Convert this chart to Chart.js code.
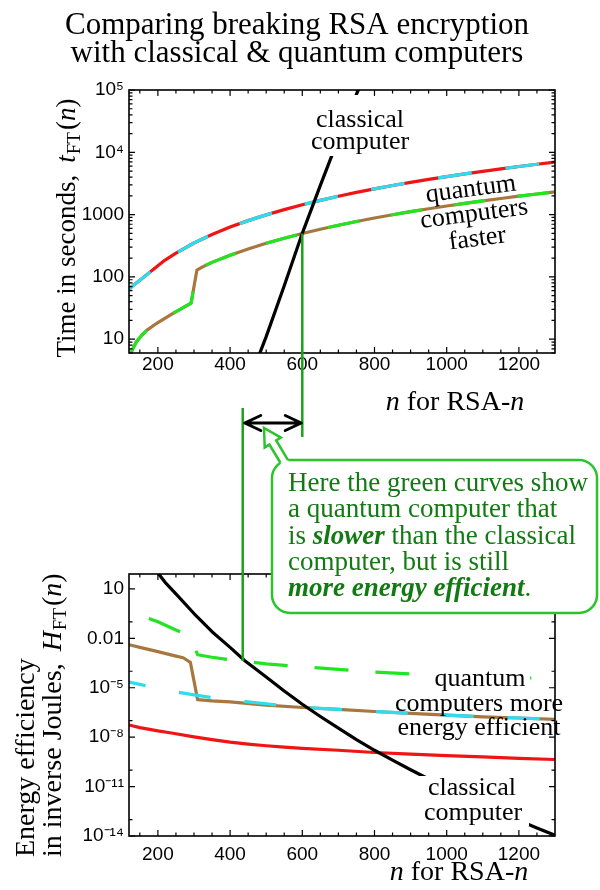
<!DOCTYPE html>
<html><head><meta charset="utf-8">
<script src="https://cdn.jsdelivr.net/npm/chart.js@4/dist/chart.umd.min.js"></script>
<style>
html,body{margin:0;padding:0;background:#fff;}
#wrap{position:relative;width:600px;height:890px;overflow:hidden;}
#wrap canvas{position:absolute;left:0;top:0;}
</style></head><body>
<div id="wrap"><canvas id="cTop" width="600" height="890"></canvas><canvas id="cBot" width="600" height="890"></canvas></div>
<script>
const SERIF = '"Liberation Serif","Times New Roman",serif';
const SANS = '"Liberation Sans",Arial,sans-serif';

// ---------- top panel: time in seconds ----------
const redCyanTimeN   = [120,128,150,175,200,220,250,300,350,400,450,500,550,600,650,700,750,800,850,900,950,1000,1050,1100,1150,1200,1250,1300];
const redCyanTimeSec = [62,70,88,115,151,186,240,350,480,630,800,990,1200,1440,1690,1970,2270,2590,2930,3290,3670,4080,4500,4950,5420,5910,6430,6980];
const brownGreenTimeN   = [120,128,140,155,170,200,242,270,292,308,325,350,400,450,500,550,600,650,700,750,800,850,900,950,1000,1050,1100,1150,1200,1250,1300];
const brownGreenTimeSec = [5.2,6.5,9,11.5,14,18.5,26,32,38,128,146,171,222,281,346,418,497,583,675,774,880,993,1113,1239,1372,1512,1660,1813,1975,2142,2315];
const classicalTimeN   = [465,480,500,550,600,650,700,750,780];
const classicalTimeSec = [3.2,5.5,11,72,500,2950,16600,85000,220000];

// ---------- bottom panel: energy efficiency (1/J) ----------
const classicalEnergyN = [180,197,220,250,300,350,400,440,500,550,600,650,700,750,800,850,900,950,1000,1050,1100,1150,1200,1250,1300];
const classicalEnergyH = [562,112,25,5.0,0.32,0.025,2.8e-3,4.5e-4,4.5e-5,6.3e-6,1.0e-6,1.8e-7,3.5e-8,7.1e-9,1.6e-9,4.0e-10,1.05e-10,2.9e-11,8.3e-12,2.5e-12,7.9e-13,2.6e-13,8.9e-14,3.1e-14,1.1e-14];
const greenEnergyN = [175,200,250,270,290,310,350,400,435,500,600,700,800,900,1000,1100,1200,1300];
const greenEnergyH = [0.16,0.1,0.032,0.021,0.014,1.0e-3,7.1e-4,5.0e-4,4.2e-4,2.8e-4,1.9e-4,1.3e-4,8.9e-5,6.9e-5,5.6e-5,4.8e-5,4.1e-5,3.5e-5];
const cyanEnergyN = [120,150,200,250,300,350,400,450,500,550,600,700,800,900,1000,1100,1200,1300];
const cyanEnergyH = [2.2e-5,1.6e-5,8.9e-6,5.6e-6,3.7e-6,2.5e-6,1.9e-6,1.4e-6,1.07e-6,7.9e-7,6.3e-7,4.8e-7,3.6e-7,2.8e-7,2.2e-7,1.7e-7,1.45e-7,1.2e-7];
const brownEnergyN = [120,150,200,250,270,290,310,350,400,500,600,700,800,900,1000,1100,1200,1300];
const brownEnergyH = [4.1e-3,2.8e-3,1.55e-3,8.3e-4,6.6e-4,3.5e-4,1.9e-6,1.6e-6,1.4e-6,8.9e-7,6.3e-7,4.8e-7,3.6e-7,2.8e-7,2.2e-7,1.7e-7,1.45e-7,1.2e-7];
const redEnergyN = [120,150,200,233,250,300,350,400,450,500,550,600,700,800,900,1000,1100,1200,1300];
const redEnergyH = [5.5e-8,3.8e-8,2.4e-8,1.86e-8,1.6e-8,1.05e-8,7.1e-9,5.0e-9,3.8e-9,3.0e-9,2.5e-9,2.1e-9,1.6e-9,1.17e-9,9.3e-10,7.6e-10,6.3e-10,5.2e-10,4.4e-10];

// ---------- ticks ----------
const xTickMajor  = [200,400,600,800,1000,1200];
const xTickLabels = ['200','400','600','800','1000','1200'];
const xTickMinor  = [150,250,300,350,450,500,550,650,700,750,850,900,950,1050,1100,1150,1250];
const timeTickValues = [10,100,1000,1e4,1e5];
const timeTickLabels = ['10','100','1000','10\u2074','10\u2075'];
const timeTickMinor = [6,7,8,9,20,30,40,50,60,70,80,90,200,300,400,500,600,700,800,900,2000,3000,4000,5000,6000,7000,8000,9000,2e4,3e4,4e4,5e4,6e4,7e4,8e4,9e4];
const energyTickValues = [10,0.01,1e-5,1e-8,1e-11,1e-14];
const energyTickLabels = ['10','0.01','10\u207B\u2075','10\u207B\u2078','10\u207B\u00B9\u00B9','10\u207B\u00B9\u2074'];
const energyTickMinor = [0.1,1e-4,1e-7,1e-10,1e-13];

// crossing markers (n values)
const markSlowN = 435, markFastN = 600;

const C = {red:'#f01414', cyan:'#2fdcee', green:'#22e522', brown:'#a8773f', black:'#000',
  vline:'#1aa31a', box:'#2cc42c', text:'#127a12'};

function same(a,b){ return Math.abs(a-b) <= Math.abs(b)*1e-9; }
function labelFor(v, vals, labels){ for(let i=0;i<vals.length;i++) if(same(vals[i],v)) return labels[i]; return ''; }
function pts(N,V){ return N.map((n,i)=>({x:n,y:V[i]})); }
function ds(label,N,V,color,order,extra){
  return Object.assign({label, data:pts(N,V), borderColor:color, borderWidth:3.2, pointRadius:0, fill:false, tension:0, order, borderCapStyle:'butt', borderJoinStyle:'round'}, extra||{});
}
function richW(ctx,segs){ let w=0; for(const s of segs){ ctx.font=s.f; w+=ctx.measureText(s.t).width+(s.gap||0);} return w; }
function drawRich(ctx,x,y,segs){ for(const s of segs){ ctx.font=s.f; ctx.fillText(s.t,x,y+(s.dy||0)); x+=ctx.measureText(s.t).width+(s.gap||0);} return x; }

function drawFrame(chart, xMajor, yMajor){
  const ctx=chart.ctx, a=chart.chartArea, xs=chart.scales.x, ys=chart.scales.y;
  const isMaj=(arr,v)=>arr.some(m=>same(m,v));
  ctx.save(); ctx.strokeStyle='#000'; ctx.lineWidth=1.2; ctx.beginPath();
  xs.ticks.forEach(t=>{ const p=xs.getPixelForValue(t.value); const L=isMaj(xMajor,t.value)?6:3.5;
    ctx.moveTo(p,a.bottom); ctx.lineTo(p,a.bottom-L); ctx.moveTo(p,a.top); ctx.lineTo(p,a.top+L); });
  ys.ticks.forEach(t=>{ const p=ys.getPixelForValue(t.value); const L=isMaj(yMajor,t.value)?6:3.5;
    ctx.moveTo(a.left,p); ctx.lineTo(a.left+L,p); ctx.moveTo(a.right,p); ctx.lineTo(a.right-L,p); });
  ctx.stroke();
  ctx.lineWidth=1.6; ctx.strokeRect(a.left,a.top,a.right-a.left,a.bottom-a.top);
  ctx.restore();
}

function xScale(extraTicks, pad){
  return {type:'linear', min:120, max:1300,
    afterBuildTicks:s=>{ s.ticks=[...xTickMinor,...xTickMajor].sort((p,q)=>p-q).map(v=>({value:v})); },
    afterFit:s=>{ s.height=extraTicks; },
    grid:{display:false, drawTicks:false}, border:{display:false},
    ticks:{autoSkip:false, maxRotation:0, minRotation:0, padding:pad, color:'#000', font:{family:SANS,size:19},
      callback:v=>labelFor(v,xTickMajor,xTickLabels)}};
}
function yScale(min,max,major,labels,minor){
  const all=[...minor,...major].sort((p,q)=>p-q);
  return {type:'logarithmic', min, max,
    afterBuildTicks:s=>{ s.ticks=all.map(v=>({value:v})); },
    afterFit:s=>{ s.width=90; },
    grid:{display:false, drawTicks:false}, border:{display:false},
    ticks:{autoSkip:false, padding:5, color:'#000', font:{family:SANS,size:19},
      callback:v=>labelFor(v,major,labels)}};
}

// ---------------- TOP CHART ----------------
const topDecor = {id:'topDecor', afterDatasetsDraw(chart){
  const ctx=chart.ctx, xs=chart.scales.x, ys=chart.scales.y;
  ctx.save();
  // classical computer label
  ctx.fillStyle='#fff'; ctx.fillRect(308,95,104,61);
  ctx.fillStyle='#000'; ctx.font='26px '+SERIF; ctx.textAlign='center'; ctx.textBaseline='alphabetic';
  ctx.fillText('classical',360,127); ctx.fillText('computer',360,149);
  // quantum computers faster (rotated)
  ctx.save(); ctx.translate(475,221); ctx.rotate(-7.5*Math.PI/180);
  ctx.fillText('quantum',0,-25); ctx.fillText('computers',0,0); ctx.fillText('faster',0,25);
  ctx.restore();
  ctx.restore();
  drawFrame(chart, xTickMajor, timeTickValues);
  ctx.save();
  // green vertical marker at n=600
  const xp=xs.getPixelForValue(markFastN);
  const yv=brownGreenTimeSec[brownGreenTimeN.indexOf(markFastN)];
  ctx.strokeStyle=C.vline; ctx.lineWidth=2.5; ctx.beginPath();
  ctx.moveTo(xp, ys.getPixelForValue(yv)); ctx.lineTo(xp,437); ctx.stroke();
  // x-axis title
  ctx.fillStyle='#000'; ctx.textBaseline='alphabetic'; ctx.textAlign='left';
  const xt=[{t:'n',f:'italic 28px '+SERIF},{t:' for RSA-',f:'28px '+SERIF},{t:'n',f:'italic 28px '+SERIF}];
  drawRich(ctx, 455-richW(ctx,xt)/2, 410, xt);
  // y-axis title
  const yt=[{t:'Time in seconds,',f:'27px '+SERIF,gap:12},{t:'t',f:'italic 27px '+SERIF,gap:1},{t:'FT',f:'19px '+SERIF,dy:5,gap:2},{t:'(',f:'27px '+SERIF},{t:'n',f:'italic 27px '+SERIF},{t:')',f:'27px '+SERIF}];
  ctx.translate(75,228); ctx.rotate(-Math.PI/2);
  drawRich(ctx, -richW(ctx,yt)/2, 0, yt);
  ctx.restore();
}};

new Chart(document.getElementById('cTop'), {
  type:'line',
  data:{datasets:[
    ds('classical computer',classicalTimeN,classicalTimeSec,C.black,0),
    ds('cyan',redCyanTimeN,redCyanTimeSec,C.cyan,1,{borderDash:[34,34],borderDashOffset:6}),
    ds('red',redCyanTimeN,redCyanTimeSec,C.red,2),
    ds('green',brownGreenTimeN,brownGreenTimeSec,C.green,3,{borderDash:[32,32]}),
    ds('brown',brownGreenTimeN,brownGreenTimeSec,C.brown,4)
  ]},
  options:{responsive:false, animation:false, devicePixelRatio:1, events:[],
    layout:{padding:{left:39,right:45,top:0,bottom:477}},
    plugins:{legend:{display:false}, tooltip:{enabled:false},
      title:{display:true, text:['Comparing breaking RSA encryption','with classical & quantum computers'],
        color:'#000', font:{family:SERIF,size:31,weight:'normal',lineHeight:0.9}, padding:{top:12,bottom:22.2}}},
    scales:{x:xScale(60,0), y:yScale(6,1e5,timeTickValues,timeTickLabels,timeTickMinor)}},
  plugins:[topDecor]
});

// ---------------- BOTTOM CHART ----------------
const botDecor = {id:'botDecor', afterDatasetsDraw(chart){
  const ctx=chart.ctx, xs=chart.scales.x, ys=chart.scales.y;
  ctx.save();
  ctx.fillStyle='#fff'; ctx.fillRect(432,668,98,24); ctx.fillRect(418,776,111,50);
  ctx.fillStyle='#000'; ctx.font='26px '+SERIF; ctx.textAlign='center'; ctx.textBaseline='alphabetic';
  ctx.fillText('quantum',480,686); ctx.fillText('computers more',479,711); ctx.fillText('energy efficient',479,735);
  ctx.fillText('classical',472,795); ctx.fillText('computer',473,820);
  ctx.restore();
  drawFrame(chart, xTickMajor, energyTickValues);
  ctx.save();
  // x title
  ctx.fillStyle='#000'; ctx.textAlign='left'; ctx.textBaseline='alphabetic';
  const xt=[{t:'n',f:'italic 28px '+SERIF},{t:' for RSA-',f:'28px '+SERIF},{t:'n',f:'italic 28px '+SERIF}];
  drawRich(ctx, 459-richW(ctx,xt)/2, 880, xt);
  // y title (two lines, rotated)
  ctx.save(); ctx.translate(34,857); ctx.rotate(-Math.PI/2);
  drawRich(ctx,0,0,[{t:'Energy efficiency',f:'28px '+SERIF}]);
  drawRich(ctx,0,27,[{t:'in inverse Joules,',f:'28px '+SERIF,gap:12},{t:'H',f:'italic 28px '+SERIF,gap:1},{t:'FT',f:'19px '+SERIF,dy:5,gap:2},{t:'(',f:'28px '+SERIF},{t:'n',f:'italic 28px '+SERIF},{t:')',f:'28px '+SERIF}]);
  ctx.restore();
  // green vertical marker at n=435
  const xl=xs.getPixelForValue(markSlowN), xr=xs.getPixelForValue(markFastN);
  const yv=greenEnergyH[greenEnergyN.indexOf(markSlowN)];
  ctx.strokeStyle=C.vline; ctx.lineWidth=2.5; ctx.beginPath();
  ctx.moveTo(xl,408); ctx.lineTo(xl,ys.getPixelForValue(yv)); ctx.stroke();
  // double arrow
  const ay=423, a1=xl+2, a2=xr-1;
  ctx.strokeStyle='#000'; ctx.lineWidth=3; ctx.lineCap='round'; ctx.lineJoin='round';
  ctx.beginPath(); ctx.moveTo(a1,ay); ctx.lineTo(a2,ay);
  ctx.moveTo(a1+16,ay-7.5); ctx.lineTo(a1,ay); ctx.lineTo(a1+16,ay+7.5);
  ctx.moveTo(a2-16,ay-7.5); ctx.lineTo(a2,ay); ctx.lineTo(a2-16,ay+7.5);
  ctx.stroke();
  // callout box
  ctx.lineCap='butt'; ctx.lineJoin='miter';
  ctx.fillStyle='#fff'; ctx.strokeStyle=C.box; ctx.lineWidth=2.5;
  ctx.beginPath(); ctx.roundRect(272,460,325,153,18); ctx.fill(); ctx.stroke();
  // tail (hollow arrow)
  const T=[264,428], R=[280.9,437.6], RS=[276.2,440.5], RB=[288,460.1], LB=[280.4,462.75], LS=[269.4,444.6], L=[264.7,447.5];
  ctx.beginPath(); ctx.moveTo(LB[0]+1.5,LB[1]+2.6); ctx.lineTo(...LS); ctx.lineTo(...L); ctx.lineTo(...T); ctx.lineTo(...R); ctx.lineTo(...RS); ctx.lineTo(RB[0]+1.5,RB[1]+2.6); ctx.closePath(); ctx.fill();
  ctx.beginPath(); ctx.moveTo(...LB); ctx.lineTo(...LS); ctx.lineTo(...L); ctx.lineTo(...T); ctx.lineTo(...R); ctx.lineTo(...RS); ctx.lineTo(...RB); ctx.stroke();
  // callout text
  ctx.fillStyle=C.text; ctx.textAlign='left'; ctx.textBaseline='alphabetic';
  const N='27px '+SERIF, B='italic bold 27px '+SERIF, tx=288;
  drawRich(ctx,tx,491,[{t:'Here the green curves show',f:N}]);
  drawRich(ctx,tx,517,[{t:'a quantum computer that',f:N}]);
  drawRich(ctx,tx,544,[{t:'is ',f:N},{t:'slower',f:B},{t:' than the classical',f:N}]);
  drawRich(ctx,tx,570,[{t:'computer, but is still',f:N}]);
  drawRich(ctx,tx,596,[{t:'more energy efficient',f:B},{t:'.',f:N}]);
  ctx.restore();
}};

new Chart(document.getElementById('cBot'), {
  type:'line',
  data:{datasets:[
    ds('classical computer',classicalEnergyN,classicalEnergyH,C.black,0),
    ds('green',greenEnergyN,greenEnergyH,C.green,1,{borderDash:[34,27]}),
    ds('cyan',cyanEnergyN,cyanEnergyH,C.cyan,2,{borderDash:[32,34],borderDashOffset:15}),
    ds('brown',brownEnergyN,brownEnergyH,C.brown,3),
    ds('red',redEnergyN,redEnergyH,C.red,4)
  ]},
  options:{responsive:false, animation:false, devicePixelRatio:1, events:[],
    layout:{padding:{left:39,right:45,top:574,bottom:0}},
    plugins:{legend:{display:false}, tooltip:{enabled:false}, title:{display:false}},
    scales:{x:xScale(54,7), y:yScale(1e-14,80,energyTickValues,energyTickLabels,energyTickMinor)}},
  plugins:[botDecor]
});
</script>
</body></html>
